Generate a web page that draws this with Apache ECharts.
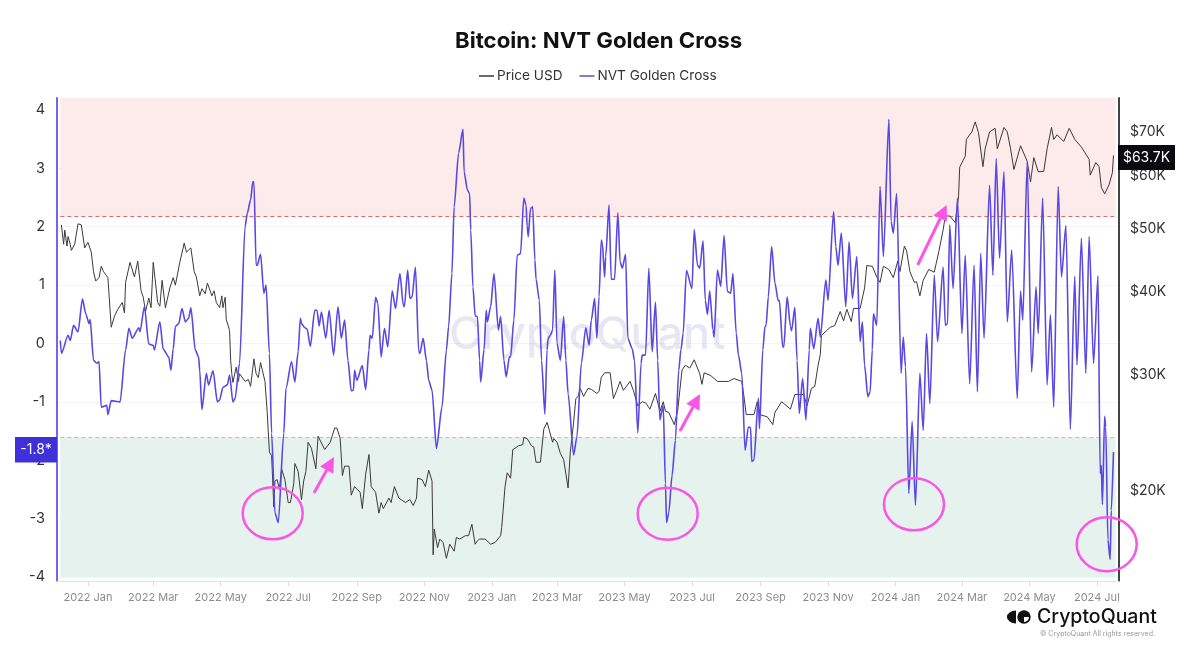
<!DOCTYPE html>
<html>
<head>
<meta charset="utf-8">
<style>
  html, body { margin: 0; padding: 0; background: #fff; }
  #chart { width: 1191px; height: 652px; }
</style>
<script src="https://cdn.jsdelivr.net/npm/echarts@6/dist/echarts.min.js"></script>
</head>
<body>
<div id="chart"></div>
<script>
// The x axis is in day numbers counted from 2022-01-01
const tickDays = [0, 59, 120, 181, 243, 304, 365, 424, 485, 546, 608, 669, 730, 790, 851, 912];
const tickLabels = ['2022 Jan', '2022 Mar', '2022 May', '2022 Jul', '2022 Sep', '2022 Nov',
  '2023 Jan', '2023 Mar', '2023 May', '2023 Jul', '2023 Sep', '2023 Nov',
  '2024 Jan', '2024 Mar', '2024 May', '2024 Jul'];
const nvtTicks = [-4, -3, -2, -1, 0, 1, 2, 3, 4];
const priceTicks = [20000, 30000, 40000, 50000, 60000, 70000];

const nvtDays = [-25, -24, -18, -16, -13, -9, -5, -2, 1, 2, 5, 8, 10, 12, 17, 18, 21, 29, 34, 37, 40, 46, 47, 51, 55,
  59, 60, 65, 68, 73, 75, 77, 79, 82, 85, 88, 91, 93, 97, 100, 101, 103, 107, 109, 113, 117, 119, 122, 126, 128,
  131, 133, 137, 142, 144, 147, 149, 150, 152, 153, 156, 159, 161, 164, 166, 169, 172, 177, 179, 184, 187, 190,
  192, 193, 196, 198, 201, 205, 207, 209, 211, 215, 218, 222, 226, 229, 232, 235, 238, 240, 241, 243, 248, 251,
  254, 255, 257, 260, 262, 265, 268, 271, 275, 278, 282, 285, 286, 289, 291, 293, 296, 299, 300, 303, 306, 308,
  311, 315, 320, 324, 326, 329, 331, 335, 339, 340, 343, 345, 346, 348, 350, 352, 354, 355, 358, 360, 361, 364,
  367, 371, 373, 376, 378, 381, 382, 385, 388, 391, 394, 396, 397, 398, 400, 402, 404, 405, 408, 410, 413, 415,
  416, 418, 420, 422, 424, 427, 430, 432, 434, 439, 442, 446, 450, 453, 455, 458, 460, 462, 464, 465, 467, 468,
  471, 473, 476, 479, 481, 483, 486, 488, 492, 494, 497, 500, 501, 504, 507, 510, 513, 515, 517, 520, 522, 523,
  525, 528, 531, 534, 536, 538, 541, 546, 548, 551, 553, 556, 558, 560, 562, 565, 566, 569, 572, 575, 578, 581,
  583, 586, 588, 591, 594, 597, 599, 600, 602, 606, 607, 610, 612, 613, 615, 618, 621, 624, 625, 628, 629, 632,
  635, 636, 639, 641, 643, 646, 649, 652, 653, 656, 660, 662, 667, 669, 674, 676, 678, 681, 685, 688, 691, 695,
  698, 700, 702, 705, 707, 709, 710, 713, 716, 719, 724, 726, 728, 731, 735, 737, 739, 742, 745, 748, 752, 755,
  758, 761, 765, 768, 773, 775, 777, 779, 782, 786, 790, 793, 797, 801, 804, 807, 810, 815, 818, 821, 824, 828,
  831, 835, 840, 843, 845, 849, 853, 857, 859, 863, 867, 870, 873, 877, 880, 884, 888, 892, 894, 898, 902, 905,
  909, 913, 915, 916, 917, 919, 920, 922, 924, 925, 927];
const nvtValues = [0.05, -0.17, 0.14, 0.05, 0.31, 0.2, 0.76, 0.51, 0.34, 0.41, -0.29, -0.34, -0.31, -1.09, -1.06, -1.22, -0.98, -1.0, -0.11, 0.26, 0.09, 0.27, 0.2, 0.63, -0.01,
  -0.03, -0.11, 0.37, -0.1, -0.23, -0.46, -0.1, 0.29, 0.34, 0.6, 0.37, 0.43, 0.61, -0.11, -0.23, -0.46, -1.13, -0.51, -0.71, -0.47, -1.0, -0.97, -0.75, -0.71, -0.54,
  -1.0, -0.94, -0.34, 2.0, 2.23, 2.46, 2.77, 2.77, 1.34, 1.34, 1.53, 0.86, 1.0, -0.17, -1.54, -2.9, -3.07, -1.54, -0.77, -0.31, -0.66, -0.14,
  0.43, 0.34, 0.27, 0.25, -0.05, 0.57, 0.57, 0.3, 0.54, 0.09, 0.57, -0.2, 0.63, 0.09, 0.4, -0.29, -0.81, -0.8, -0.46, -0.63, -0.38, -0.79,
  -0.11, 0.14, 0.09, 0.79, 0.69, -0.23, 0.26, -0.06, 0.9, 0.6, 1.2, 0.66, 0.63, 1.26, 0.77, 0.8, 1.31, -0.14, -0.17, 0.09, -0.3, -0.63,
  -0.8, -1.8, -1.09, -0.11, 0.29, 1.2, 2.34, 3.26, 3.67, 2.94, 2.63, 2.57, 1.94, 0.97, 0.47, 0.46, -0.29, -0.66, -0.11, 0.57, 0.37, 0.63,
  1.2, 0.23, 0.46, -0.29, -0.57, -0.23, -0.23, 0.4, 1.51, 1.54, 2.49, 2.37, 2.01, 1.83, 2.31, 2.34, 1.43, 1.11, 0.74, -0.29, -1.21, -0.11,
  0.09, 0.14, 0.23, 1.26, 0, -0.29, 0.46, -0.29, -0.86, -1.91, -1.6, -0.34, 0.27, -0.03, 0.4, 0.77, 0.09, 0.8, 1.77, 1.71, 1.14, 1.49,
  2.37, 1.1, 1.1, 2.24, 1.4, 1.29, 1.53, 0.09, -0.09, -0.29, -1.53, -0.34, -0.2, -0.2, 1.29, -0.14, 0.71, -0.29, -1.31, -1.06, -2.4, -3.07,
  -2.9, -2.26, -1.66, -0.46, -0.11, 0.17, 1.25, 0.94, 1.95, 1.34, 1.29, 1.76, 0.74, 0.5, 0.9, 0.23, 0.11, 1.26, 0.98, 1.85, 0.89, 0.86,
  1.2, 0.17, -0.2, -0.51, -1.83, -1.43, -1.44, -2.02, -2.0, -0.94, -1.46, -0.11, 0.29, 0.31, 0.8, 1.66, 1.03, 0.73, 0.74, -0.06, -0.06, 0.8,
  0.29, 0.22, 0.62, -0.29, -1.2, -0.6, -1.31, -0.11, 0.26, -0.09, 0.43, 0.11, 1.09, 0.74, 2.26, 1.66, 1.34, 1.89, 0.63, 1.74, 0.77, 1.49,
  0.03, 0.37, -0.37, -0.91, -0.83, -0.11, 0.51, 0.31, 2.69, 1.49, 3.84, 2.09, 1.89, 2.57, -0.51, 0.11, -0.4, -2.57, -1.34, -2.77, -0.51, -1.49,
  0.17, -1.03, 1.17, 0.03, 1.31, 0.31, 0.34, 2.03, 0.94, 2.49, 0.17, 1.51, -0.69, 1.34, -0.83, 1.54, 0.09, 2.71, 1.17, 3.17, 1.46, 2.94,
  0.37, 1.6, -0.94, 0.9, 0.4, 3.11, -0.49, 0.97, 0.17, 2.49, -0.71, 0.49, -1.09, 2.69, 1.14, 2.02, -1.47, 1.15, -0.37, 1.8, -0.51, 1.83,
  -0.34, 1.16, -2.23, -2.09, -2.76, -1.25, -1.43, -3.37, -3.7, -2.86, -1.86];

// Ten points to a row, so days and values line up row by row
const priceDays = [
  -24, -22, -21, -19, -18, -16, -15, -12, -9, -6,
  -3, 0, 3, 5, 7, 10, 12, 14, 18, 19,
  21, 24, 27, 31, 33, 34, 38, 42, 45, 48,
  50, 52, 55, 57, 59, 63, 65, 67, 70, 74,
  77, 79, 83, 87, 89, 93, 96, 98, 101, 103,
  106, 108, 112, 114, 116, 119, 121, 122, 124, 125,
  128, 129, 130, 131, 134, 136, 137, 142, 145, 147,
  150, 152, 154, 156, 160, 162, 164, 166, 168, 169,
  171, 173, 175, 178, 181, 183, 186, 187, 190, 193,
  195, 197, 199, 202, 206, 208, 214, 219, 223, 225,
  228, 230, 232, 236, 238, 241, 246, 248, 251, 254,
  256, 260, 263, 265, 267, 272, 274, 277, 281, 282,
  287, 291, 294, 297, 298, 302, 305, 308, 311, 312,
  313, 316, 318, 321, 324, 327, 331, 333, 336, 341,
  344, 347, 350, 352, 354, 359, 364, 368, 373, 374,
  377, 379, 382, 384, 386, 389, 393, 394, 397, 401,
  403, 405, 409, 412, 415, 420, 421, 424, 427, 430,
  434, 436, 439, 441, 443, 445, 448, 452, 455, 460,
  462, 464, 467, 472, 475, 478, 481, 484, 490, 493,
  497, 501, 504, 508, 513, 517, 520, 522, 525, 530,
  533, 537, 540, 544, 548, 553, 555, 557, 563, 569,
  570, 579, 584, 591, 593, 595, 602, 605, 607, 614,
  619, 621, 627, 635, 639, 647, 650, 654, 657, 660,
  662, 663, 671, 675, 680, 683, 686, 690, 692, 698,
  702, 704, 709, 713, 716, 719, 724, 728, 732, 734,
  738, 740, 743, 747, 749, 752, 755, 760, 765, 769,
  773, 775, 779, 784, 787, 788, 793, 794, 799, 802,
  805, 809, 811, 815, 820, 822, 828, 831, 834, 837,
  843, 849, 852, 855, 859, 864, 867, 871, 873, 876,
  882, 887, 892, 898, 905, 906, 911, 914, 916, 919,
  923, 926, 927];
const priceValues = [
  50600, 47300, 49700, 47000, 48600, 47300, 46300, 47300, 50800, 50600,
  46700, 47600, 46000, 43000, 41600, 42100, 43800, 43000, 42100, 39800,
  35400, 36800, 37700, 38600, 37200, 41400, 44400, 42200, 44600, 40200,
  39300, 37400, 39200, 37900, 44400, 38600, 38100, 41700, 37900, 40600,
  42100, 41000, 44400, 47500, 46000, 46700, 43000, 42200, 39500, 40500,
  39800, 41300, 39500, 40200, 38600, 37900, 39500, 37900, 39300, 36400,
  35000, 31500, 30100, 29200, 30800, 29300, 30100, 29300, 29500, 28800,
  31700, 30100, 29700, 31300, 29300, 26300, 22900, 22600, 18900, 20700,
  20800, 20100, 21600, 20800, 19200, 19200, 20500, 22000, 21400, 19400,
  20700, 21400, 23700, 23200, 21600, 24200, 23100, 23700, 24900, 24900,
  24000, 21100, 21800, 21800, 19700, 20300, 19900, 18800, 21200, 22700,
  20300, 19900, 18500, 19200, 18800, 19500, 19200, 20300, 19500, 19400,
  19200, 19400, 19000, 19500, 20900, 20800, 20300, 21500, 20700, 16000,
  17500, 16400, 16900, 16700, 15800, 16600, 16200, 17000, 16900, 17100,
  17100, 17800, 16600, 16800, 16900, 16900, 16600, 16700, 17100, 17600,
  20300, 21300, 20900, 23100, 23200, 23400, 23500, 24100, 24000, 23400,
  23300, 22100, 22100, 24800, 25400, 23700, 24000, 23700, 22800, 22300,
  20200, 22900, 25400, 27600, 27800, 28600, 27800, 28600, 28500, 28100,
  28300, 29700, 30200, 30200, 27600, 28400, 29300, 28400, 29300, 28400,
  26900, 27300, 27200, 26600, 28100, 26400, 27300, 26400, 26300, 25200,
  26400, 30500, 31000, 30700, 31600, 30100, 29000, 30200, 29900, 29300,
  29300, 29300, 29600, 29300, 27800, 26100, 26100, 27300, 26100, 25900,
  25200, 26300, 27300, 26600, 28000, 28000, 26900, 28600, 28800, 31000,
  32200, 34400, 35400, 35600, 37400, 36200, 37700, 36100, 37800, 37800,
  40600, 43900, 43800, 42200, 41400, 43800, 43300, 42100, 44600, 43000,
  47000, 46200, 43000, 41400, 41500, 39500, 41700, 43300, 42900, 46000,
  49700, 52200, 52200, 51000, 56000, 61900, 64300, 68200, 70000, 72500,
  69800, 62000, 66000, 70000, 70900, 66000, 71100, 70000, 66000, 61400,
  66700, 63200, 58800, 64000, 60900, 61000, 66000, 71100, 68200, 69300,
  67700, 70900, 68200, 66400, 63600, 60200, 62900, 62000, 57700, 56400,
  58200, 60700, 64500];

const DATA_START_DAY = -25;
const DATA_END_DAY = 929;
const RED_LEVEL = 2.18;
const GREEN_LEVEL = -1.61;

const FONT = 'Inter, "Noto Sans", sans-serif';
const PINK = '#fb55e6';
const ellipses = [[272.7, 513.3, 30, 26], [667.7, 513.7, 30, 26], [914, 504.3, 30, 26], [1106.7, 544.3, 30, 27]];
const arrows = [[314, 493, 334, 457], [680, 431, 700, 394], [917.7, 265, 946.7, 205]];

function zipPoints(days, values) {
  return days.map((day, i) => [day, values[i]]);
}

// Pink shaft plus triangular head, pointing from (x1, y1) to (x2, y2)
function arrowShapes(x1, y1, x2, y2) {
  const angle = Math.atan2(y2 - y1, x2 - x1);
  const headLen = 15;
  const headHalf = 7.5;
  const baseX = x2 - Math.cos(angle) * headLen;
  const baseY = y2 - Math.sin(angle) * headLen;
  const offX = -Math.sin(angle) * headHalf;
  const offY = Math.cos(angle) * headHalf;
  return [{
    type: 'line',
    z: 20,
    shape: {x1: x1, y1: y1, x2: baseX, y2: baseY},
    style: {stroke: PINK, lineWidth: 3}
  }, {
    type: 'polygon',
    z: 20,
    shape: {points: [[x2, y2], [baseX + offX, baseY + offY], [baseX - offX, baseY - offY]]},
    style: {fill: PINK}
  }];
}

function buildGraphics() {
  const items = [];

  // Watermark sits behind the lines
  items.push({
    type: 'text', z: -1, left: 449, top: 313,
    style: {text: 'CryptoQuant', font: '500 45px ' + FONT, fill: 'rgba(205,208,228,0.5)'}
  });

  ellipses.forEach(e => {
    items.push({
      type: 'ellipse', z: 20,
      shape: {cx: e[0], cy: e[1], rx: e[2], ry: e[3]},
      style: {fill: 'none', stroke: PINK, lineWidth: 2.5}
    });
  });
  arrows.forEach(a => items.push(...arrowShapes(a[0], a[1], a[2], a[3])));

  // Current value badges on both axes
  items.push({
    type: 'rect', z: 21, shape: {x: 15, y: 437, width: 42, height: 25.5},
    style: {fill: '#3f30d9'}
  }, {
    type: 'text', z: 22, x: 36, y: 450,
    style: {text: '-1.8*', font: '14px ' + FONT, fill: '#fff', textAlign: 'center', textVerticalAlign: 'middle'}
  }, {
    type: 'rect', z: 21, shape: {x: 1118, y: 145, width: 57, height: 25},
    style: {fill: '#0b0b0f'}
  }, {
    type: 'text', z: 22, x: 1146.5, y: 157.5,
    style: {text: '$63.7K', font: '14px ' + FONT, fill: '#fff', textAlign: 'center', textVerticalAlign: 'middle'}
  });

  // CryptoQuant logo
  items.push({
    type: 'sector', z: 5,
    shape: {cx: 1016, cy: 617, r: 6.5, r0: 0, startAngle: Math.PI / 2, endAngle: Math.PI * 3 / 2},
    scaleX: 1.4, originX: 1016, originY: 617,
    style: {fill: '#111'}
  }, {
    type: 'circle', z: 5, shape: {cx: 1024, cy: 617, r: 6.7},
    style: {fill: '#111'}
  }, {
    type: 'sector', z: 6,
    shape: {cx: 1024, cy: 617, r: 5, r0: 0, startAngle: 0, endAngle: Math.PI / 2},
    style: {fill: '#fff'}
  }, {
    type: 'text', z: 5, x: 1037, y: 617,
    style: {text: 'CryptoQuant', font: '500 19.5px ' + FONT, fill: '#111', textVerticalAlign: 'middle'}
  }, {
    type: 'text', z: 5, x: 1040, y: 634,
    style: {text: '© CryptoQuant All rights reserved.', font: '7px ' + FONT, fill: '#999', textVerticalAlign: 'middle'}
  });
  return items;
}

const chart = echarts.init(document.getElementById('chart'));

chart.setOption({
  animation: false,
  backgroundColor: '#fff',
  textStyle: {fontFamily: FONT},
  title: {
    text: 'Bitcoin: NVT Golden Cross',
    left: 450,
    top: 25,
    textStyle: {fontSize: 22.2, fontWeight: 'bold', color: '#111', fontFamily: FONT}
  },
  legend: {
    left: 474,
    top: 64,
    icon: 'rect',
    itemWidth: 15,
    itemHeight: 1.5,
    itemGap: 17,
    textStyle: {fontSize: 13.6, color: '#333', fontFamily: FONT, padding: [0, 0, 0, -2]},
    data: ['Price USD', 'NVT Golden Cross']
  },
  grid: {left: 57, right: 72, top: 98, bottom: 71},
  xAxis: {
    type: 'value',
    min: -28,
    max: 932,
    axisLine: {onZero: false, lineStyle: {color: '#e2e2ea'}},
    axisTick: {customValues: tickDays, length: 5, lineStyle: {color: '#dcdce4'}},
    axisLabel: {
      customValues: tickDays,
      color: '#8b8b93',
      fontSize: 11,
      margin: 11,
      hideOverlap: false,
      formatter: value => tickLabels[tickDays.indexOf(value)]
    },
    splitLine: {show: false}
  },
  yAxis: [{
    type: 'value',
    position: 'left',
    min: -4.07,
    max: 4.206,
    axisLine: {show: true, onZero: false, lineStyle: {color: '#7563f3', width: 2}},
    axisTick: {show: false, customValues: nvtTicks},
    axisLabel: {customValues: nvtTicks, color: '#333', fontSize: 14.5, margin: 12},
    splitLine: {show: true, lineStyle: {color: 'rgba(40,40,60,0.05)'}}
  }, {
    type: 'log',
    position: 'right',
    min: 14600,
    max: 78800,
    axisLine: {show: true, onZero: false, lineStyle: {color: '#444', width: 2}},
    axisTick: {show: false, customValues: priceTicks},
    axisLabel: {
      customValues: priceTicks,
      color: '#333',
      fontSize: 14,
      margin: 11,
      formatter: value => '$' + Math.round(value / 1000) + 'K'
    },
    splitLine: {show: false}
  }],
  series: [{
    name: 'Price USD',
    type: 'line',
    yAxisIndex: 1,
    symbol: 'none',
    z: 3,
    color: '#3a3a3a',
    lineStyle: {width: 1, color: '#3a3a3a'},
    data: zipPoints(priceDays, priceValues)
  }, {
    name: 'NVT Golden Cross',
    type: 'line',
    yAxisIndex: 0,
    symbol: 'none',
    smooth: 0.25,
    smoothMonotone: 'x',
    z: 4,
    color: '#5a48e4',
    lineStyle: {width: 1.6, color: '#5a48e4'},
    data: zipPoints(nvtDays, nvtValues),
    markArea: {
      silent: true,
      z: 1,
      data: [
        [{coord: [DATA_START_DAY, RED_LEVEL], itemStyle: {color: '#fdeaea'}}, {coord: [DATA_END_DAY, 4.206]}],
        [{coord: [DATA_START_DAY, GREEN_LEVEL], itemStyle: {color: '#e6f2ed'}}, {coord: [DATA_END_DAY, -4]}]
      ]
    },
    markLine: {
      silent: true,
      symbol: 'none',
      label: {show: false},
      z: 2,
      data: [
        [{coord: [DATA_START_DAY, RED_LEVEL], lineStyle: {color: '#e26a6a', type: [4, 3], width: 1}}, {coord: [DATA_END_DAY, RED_LEVEL]}],
        [{coord: [DATA_START_DAY, GREEN_LEVEL], lineStyle: {color: '#93dc8f', type: [4, 3], width: 1}}, {coord: [DATA_END_DAY, GREEN_LEVEL]}]
      ]
    }
  }],
  graphic: buildGraphics()
});

window.addEventListener('resize', function () {
  chart.resize();
});
</script>
</body>
</html>
